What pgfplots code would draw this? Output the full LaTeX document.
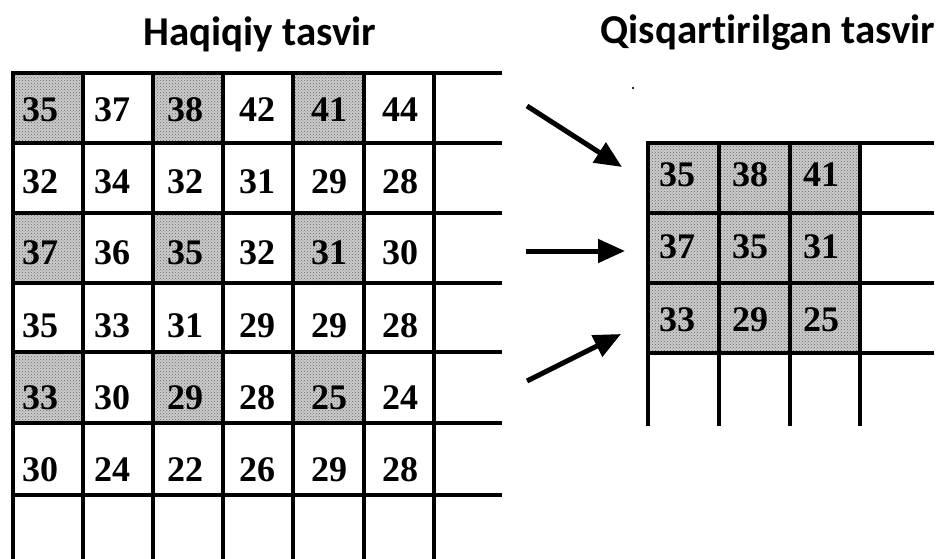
\documentclass[border=0pt]{standalone}
\usepackage{pgfplots}
\usepackage{pgfplotstable}
\pgfplotsset{compat=1.18}
\usepackage{fontspec}
\usetikzlibrary{arrows.meta,patterns}
\newfontfamily\titlefont{Carlito}[Ligatures=NoCommon]
\newfontfamily\numfont{Liberation Serif}

\pgfplotstableread{
x y label
40 110 35
112 110 37
185 110 38
257 110 42
329 110 41
400 110 44
40 182 32
112 182 34
185 182 32
257 182 31
329 182 29
400 182 28
40 253 37
112 253 36
185 253 35
257 253 32
329 253 31
400 253 30
40 326 35
112 326 33
185 326 31
257 326 29
329 326 29
400 326 28
40 398 33
112 398 30
185 398 29
257 398 28
329 398 25
400 398 24
40 470 30
112 470 24
185 470 22
257 470 26
329 470 29
400 470 28
}\leftnums

\pgfplotstableread{
x y label
677 175 35
750 175 38
821 175 41
677 247 37
750 247 35
821 247 31
677 320 33
750 320 29
821 320 25
}\rightnums

\begin{document}
\begin{tikzpicture}
\begin{axis}[
  width=939pt, height=559pt, scale only axis,
  xmin=0, xmax=939, ymin=0, ymax=559, y dir=reverse,
  hide axis, clip=true,
  gl/.style={line width=3.2pt, black, line cap=rect, mark=none},
  cell/.style={draw=none, fill=black!20, mark=none,
    postaction={pattern=crosshatch dots, pattern color=black!60}},
  arr/.style={line width=5pt, black, mark=none,
    -{Triangle[length=27pt,width=23pt]}},
  numlab/.style={only marks, mark=*, mark size=0pt,
    nodes near coords, point meta=explicit symbolic,
    nodes near coords style={anchor=center, inner sep=0pt,
      font=\numfont\bfseries\fontsize{36}{40}\selectfont}},
]
% invisible frame for bounding box
\addplot[draw=none, mark=none] coordinates {(0,0) (939,559)};

% shaded cells, left grid
\addplot[cell] coordinates {(13,73) (83,73) (83,143) (13,143)};
\addplot[cell] coordinates {(153,73) (223,73) (223,143) (153,143)};
\addplot[cell] coordinates {(293,73) (363,73) (363,143) (293,143)};
\addplot[cell] coordinates {(13,213) (83,213) (83,283) (13,283)};
\addplot[cell] coordinates {(153,213) (223,213) (223,283) (153,283)};
\addplot[cell] coordinates {(293,213) (363,213) (363,283) (293,283)};
\addplot[cell] coordinates {(13,352) (83,352) (83,423) (13,423)};
\addplot[cell] coordinates {(153,352) (223,352) (223,423) (153,423)};
\addplot[cell] coordinates {(293,352) (363,352) (363,423) (293,423)};
% shaded block, right grid
\addplot[cell] coordinates {(648,143) (860,143) (860,353) (648,353)};

% left grid: horizontal lines
\addplot[gl] coordinates {(13,73) (500,73)};
\addplot[gl] coordinates {(13,143) (500,143)};
\addplot[gl] coordinates {(13,213) (500,213)};
\addplot[gl] coordinates {(13,283) (500,283)};
\addplot[gl] coordinates {(13,352) (500,352)};
\addplot[gl] coordinates {(13,423) (500,423)};
\addplot[gl] coordinates {(13,495) (500,495)};
% left grid: vertical lines
\addplot[gl] coordinates {(13,73) (13,565)};
\addplot[gl] coordinates {(83,73) (83,565)};
\addplot[gl] coordinates {(153,73) (153,565)};
\addplot[gl] coordinates {(223,73) (223,565)};
\addplot[gl] coordinates {(293,73) (293,565)};
\addplot[gl] coordinates {(364,73) (364,565)};
\addplot[gl] coordinates {(434,73) (434,565)};

% right grid: horizontal lines
\addplot[gl] coordinates {(648,143) (932,143)};
\addplot[gl] coordinates {(648,213) (932,213)};
\addplot[gl] coordinates {(648,283) (932,283)};
\addplot[gl] coordinates {(648,353) (932,353)};
% right grid: vertical lines
\addplot[gl] coordinates {(648,143) (648,424)};
\addplot[gl] coordinates {(719,143) (719,424)};
\addplot[gl] coordinates {(790,143) (790,424)};
\addplot[gl] coordinates {(860,143) (860,424)};

% arrows
\addplot[arr] coordinates {(527,106) (622,167)};
\addplot[arr] coordinates {(526,251) (625,251)};
\addplot[arr] coordinates {(527,381) (621,334)};

% small speck
\addplot[only marks, mark=*, mark size=0.8pt, black] coordinates {(633,88)};

% numbers
\addplot[numlab] table[x=x, y=y, meta=label] {\leftnums};
\addplot[numlab] table[x=x, y=y, meta=label] {\rightnums};

% titles
\node[anchor=base, inner sep=0pt, font=\titlefont\bfseries\fontsize{41}{45}\selectfont]
  at (axis cs:260,46) {Haqiqiy tasvir};
\node[anchor=base, inner sep=0pt, font=\titlefont\bfseries\fontsize{41}{45}\selectfont]
  at (axis cs:768,44) {Qisqartirilgan tasvir};
\end{axis}
\end{tikzpicture}
\end{document}
